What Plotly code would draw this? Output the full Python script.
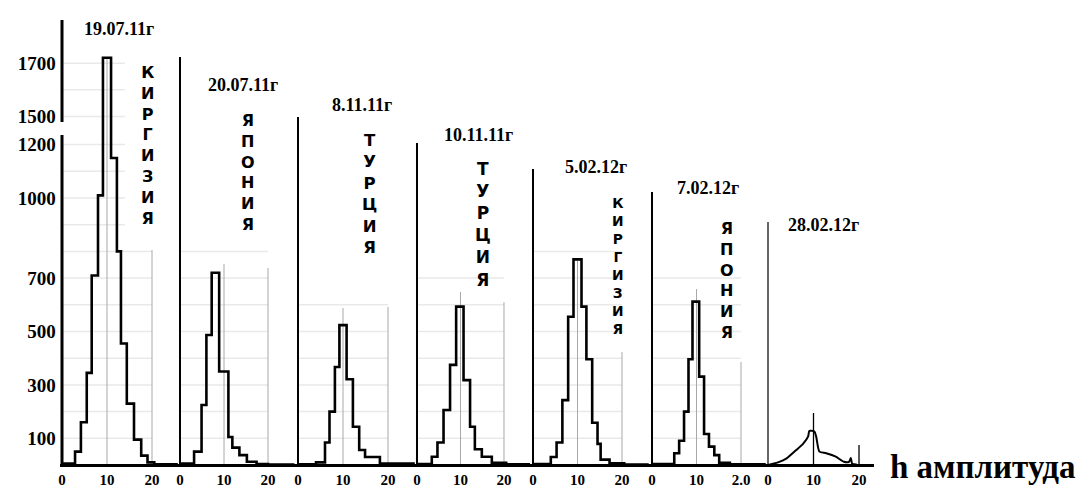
import plotly.graph_objects as go

# ---------------- data ----------------
dates = ["19.07.11г", "20.07.11г", "8.11.11г", "10.11.11г", "5.02.12г", "7.02.12г", "28.02.12г"]
countries = ["КИРГИЗИЯ", "ЯПОНИЯ", "ТУРЦИЯ", "ТУРЦИЯ", "КИРГИЗИЯ", "ЯПОНИЯ"]

# histogram bin edges (amplitude h) and counts for panels 1..6
edges1 = [0, 2.9, 4.2, 5.5, 6.6, 8.0, 9.1, 10.9, 12.2, 13.1, 14.4, 16.0, 17.6, 19.0, 20.5, 26]
counts1 = [5, 50, 160, 345, 710, 1010, 1720, 1150, 800, 455, 230, 95, 35, 10, 3]

edges2 = [0, 3.2, 4.9, 6.0, 7.2, 8.9, 11.0, 11.9, 13.5, 15.2, 17.4, 20, 26]
counts2 = [5, 50, 225, 487, 720, 350, 105, 65, 37, 12, 4, 2]

edges3 = [0, 4.0, 6.0, 7.0, 8.2, 9.2, 10.8, 12.2, 13.6, 14.9, 18.2, 26]
counts3 = [3, 10, 84, 200, 367, 524, 321, 143, 56, 30, 5]

edges4 = [0, 3.4, 4.7, 6.1, 7.6, 9.0, 10.7, 12.2, 13.3, 14.9, 17.2, 20.5, 26]
counts4 = [4, 31, 84, 206, 375, 593, 318, 143, 59, 31, 8, 3]

edges5 = [0, 4.0, 5.3, 6.6, 7.9, 9.1, 10.9, 12.0, 13.3, 14.5, 15.2, 17.2, 20.5, 26]
counts5 = [4, 30, 84, 243, 555, 770, 593, 396, 158, 79, 20, 6, 2]

edges6 = [0, 5.0, 6.1, 7.2, 8.2, 9.1, 10.6, 11.7, 12.8, 14.0, 15.1, 17.5, 26]
counts6 = [4, 44, 91, 200, 396, 612, 331, 116, 69, 37, 8, 3]

# panel 7 is a line curve
curve7_x = [0, 1.15, 2.2, 4.1, 6.2, 7.7, 8.8, 9.1, 10.2, 10.6, 11.3, 12.8, 14.9, 16.7, 17.8, 18.2, 18.5, 19.5]
curve7_y = [0, 5, 10, 25, 56, 79, 106, 128, 125, 106, 50, 44, 31, 12, 12, 26, 5, 2]

# heights of the light vertical grid lines at h=10 and h=20 per panel
grid10_top = [1720, 753, 588, 648, 770, 659, 195]
grid20_top = [805, 738, 592, 610, 423, 386, 75]
hgrid_top = [1700, 800, 600, 700, 800, 700, 0]

y_tick_vals = [100, 300, 500, 700, 1000, 1200, 1500, 1700]
x_tick_vals = [0, 10, 20]
x_tick_text = [["0", "10", "20"]] * 5 + [["0", "10", "2.0"], ["0", "10", "20"]]

edges = [edges1, edges2, edges3, edges4, edges5, edges6]
counts = [counts1, counts2, counts3, counts4, counts5, counts6]

# ---------------- broken y axis transform ----------------
B_LO, B_HI, B_GAP = 1250, 1500, 55


def ty(v):
    if v <= B_LO:
        return v
    if v >= B_HI:
        return v - (B_HI - B_LO) + B_GAP
    return B_LO + (v - B_LO) * B_GAP / (B_HI - B_LO)


# ---------------- layout geometry (pixels) ----------------
W, H = 1078, 487
PLOT_TOP, PLOT_BOT = 10, 464
Y0_PX, PX_PER = 465, 0.267
PH = PLOT_BOT - PLOT_TOP
p0 = [62, 180, 298, 417, 533, 652, 768]        # pixel of h=0 in each panel
sc = [4.5, 4.4, 4.5, 4.35, 4.45, 4.45, 4.55]   # px per unit of h
RIGHT_END = 874
PAD = 0.5
line_tops_px = [None, 57, 117, 143, 169, 192, 222]


def py(pix):
    return (PLOT_BOT - pix) / PH


SERIF = "Liberation Serif"
SANS = "DejaVu Sans"
fig = go.Figure()
layout = dict(
    width=W, height=H, margin=dict(l=0, r=0, t=PLOT_TOP, b=H - PLOT_BOT, autoexpand=False),
    paper_bgcolor="white", plot_bgcolor="white", showlegend=False,
)

shapes = []
annotations = []
for i in range(7):
    xname = "x" if i == 0 else f"x{i+1}"
    axkey = "xaxis" if i == 0 else f"xaxis{i+1}"
    left_px = p0[i] - PAD * sc[i]
    right_px = (p0[i + 1] - PAD * sc[i + 1]) if i < 6 else RIGHT_END
    rmax = (right_px - p0[i]) / sc[i]
    layout[axkey] = dict(
        domain=[left_px / W, right_px / W], range=[-PAD, rmax], anchor="y",
        tickvals=x_tick_vals, ticktext=x_tick_text[i], ticks="", automargin=False,
        showgrid=False, zeroline=False, showline=True, linecolor="black", linewidth=3,
        tickfont=dict(family=SERIF, size=15, color="black", weight="bold"),
        ticklabelstandoff=0, fixedrange=True,
    )
    if i < 6:
        e, c = edges[i], counts[i]
        fig.add_trace(go.Scatter(
            x=e, y=[ty(v) for v in c + [c[-1]]], mode="lines",
            line=dict(color="black", width=2.6, shape="hv"),
            xaxis=xname, yaxis="y", hoverinfo="skip"))
    else:
        fig.add_trace(go.Scatter(
            x=curve7_x, y=[ty(v) for v in curve7_y], mode="lines",
            line=dict(color="black", width=2, shape="spline", smoothing=0.6),
            xaxis=xname, yaxis="y", hoverinfo="skip"))

    # faint horizontal grid lines
    for lv in range(100, hgrid_top[i] + 1, 100):
        if B_LO < lv < B_HI:
            continue
        xe = 14 if lv >= 900 else 20
        shapes.append(dict(type="line", xref=xname, yref="y", x0=0, x1=xe, y0=ty(lv), y1=ty(lv),
                           line=dict(color="#e9e9e9", width=1.5), layer="below"))
    # vertical grid lines at h=10 and h=20
    gcol = "black" if i == 6 else "#a8a8a8"
    gw = 1.3 if i == 6 else 1
    for gx, top in ((10, grid10_top[i]), (20, grid20_top[i])):
        shapes.append(dict(type="line", xref=xname, yref="y", x0=gx, x1=gx, y0=0, y1=ty(top),
                           line=dict(color=gcol, width=gw), layer="below"))
    # panel left vertical line
    if i > 0:
        shapes.append(dict(type="line", xref=xname, yref="paper", x0=0, x1=0,
                           y0=0, y1=py(line_tops_px[i]),
                           line=dict(color="black", width=2 if i < 6 else 1.2)))

# broken main y axis
shapes.append(dict(type="line", xref="x", yref="paper", x0=0, x1=0, y0=0, y1=py(135),
                   line=dict(color="black", width=3)))
shapes.append(dict(type="line", xref="x", yref="paper", x0=0, x1=0, y0=py(122), y1=py(20),
                   line=dict(color="black", width=3)))

layout["yaxis"] = dict(
    domain=[0, 1], range=[(Y0_PX - PLOT_BOT) / PX_PER, (Y0_PX - PLOT_TOP) / PX_PER], anchor="x",
    tickvals=[ty(v) for v in y_tick_vals], ticktext=[str(v) for v in y_tick_vals], ticks="",
    showgrid=False, zeroline=False, showline=False, ticklabelstandoff=3, automargin=False,
    tickfont=dict(family=SERIF, size=19, color="black", weight="bold"), fixedrange=True,
)

# date labels
date_pos = [(119, 29), (243, 85), (362, 105), (479, 135), (596, 167), (708, 188), (823, 225)]
for d, (x, y) in zip(dates, date_pos):
    annotations.append(dict(text=d, xref="paper", yref="paper", x=x / W, y=py(y),
                            xanchor="center", yanchor="middle", showarrow=False,
                            font=dict(family=SERIF, size=18, color="black", weight="bold")))

# vertical country names
country_pos = [(147, 145.5, 16), (248, 172, 16), (369, 194, 16.5), (483, 224, 17), (618, 265.5, 13.8), (727, 280, 16)]
for name, (x, y, fs) in zip(countries, country_pos):
    annotations.append(dict(text="<br>".join(list(name)), xref="paper", yref="paper",
                            x=x / W, y=py(y), xanchor="center", yanchor="middle", showarrow=False,
                            font=dict(family=SANS, size=fs, color="black", weight="bold")))

annotations.append(dict(text="h амплитуда", xref="paper", yref="paper", x=888 / W, y=py(467),
                        xanchor="left", yanchor="middle", showarrow=False,
                        font=dict(family=SERIF, size=33, color="black", weight="bold")))

layout["shapes"] = shapes
layout["annotations"] = annotations
fig.update_layout(**layout)
fig.write_html("out.html", config={"displayModeBar": False},
               post_script="document.body.style.margin='0px';")
